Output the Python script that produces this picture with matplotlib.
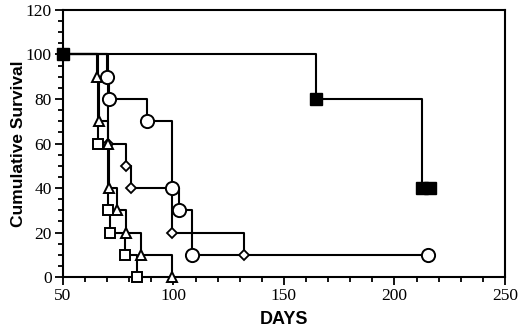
import matplotlib
matplotlib.use('Agg')
import matplotlib.pyplot as plt
from matplotlib.ticker import MultipleLocator

# Kaplan-Meier style survival curves (days, cumulative survival %)
circle_days = [50, 70, 70.8, 88, 99.5, 102.5, 108.5, 215]
circle_surv = [100, 90, 80, 70, 40, 30, 10, 10]

diamond_days = [50, 70.5, 78.5, 81, 99.5, 132]
diamond_surv = [100, 60, 50, 40, 20, 10]

triangle_days = [50, 65.4, 66.4, 70.2, 71, 74.6, 78.5, 85.3, 99.5]
triangle_surv = [100, 90, 70, 60, 40, 30, 20, 10, 0]

square_days = [50, 65.8, 70.4, 71.2, 78, 83.3]
square_surv = [100, 60, 30, 20, 10, 0]

filled_days = [50, 164.5, 212.6, 216]
filled_surv = [100, 80, 40, 40]

fig = plt.figure(figsize=(5.2, 3.28), dpi=100)
ax = fig.add_axes([0.121, 0.155, 0.850, 0.815])

lw = 1.5
# lines first
for d, s in [(circle_days, circle_surv), (diamond_days, diamond_surv),
             (triangle_days, triangle_surv), (square_days, square_surv),
             (filled_days, filled_surv)]:
    ax.step(d, s, where='post', color='black', lw=lw, zorder=2)

# markers at events
ax.plot(circle_days[1:], circle_surv[1:], 'o', ms=9.5, mfc='white', mec='black',
        mew=1.4, ls='none', zorder=3, clip_on=False)
ax.plot(diamond_days[1:], diamond_surv[1:], 'D', ms=5.5, mfc='white', mec='black',
        mew=1.3, ls='none', zorder=3, clip_on=False)
ax.plot(triangle_days[1:], triangle_surv[1:], '^', ms=7.5, mfc='white', mec='black',
        mew=1.4, ls='none', zorder=4, clip_on=False)
ax.plot(square_days[1:], square_surv[1:], 's', ms=7.5, mfc='white', mec='black',
        mew=1.4, ls='none', zorder=4, clip_on=False)
ax.plot(filled_days, filled_surv, 's', ms=8.5, mfc='black', mec='black',
        mew=1, ls='none', zorder=5, clip_on=False)

ax.set_xlim(50, 250)
ax.set_ylim(0, 120)
ax.xaxis.set_major_locator(MultipleLocator(50))
ax.xaxis.set_minor_locator(MultipleLocator(10))
ax.yaxis.set_major_locator(MultipleLocator(20))
ax.yaxis.set_minor_locator(MultipleLocator(5))
ax.tick_params(which='both', direction='out', width=1.3, colors='black')
ax.tick_params(which='major', length=6, pad=2)
ax.tick_params(which='minor', length=3.5)
for lab in ax.get_xticklabels() + ax.get_yticklabels():
    lab.set_fontfamily('Liberation Serif')
    lab.set_fontsize(12.5)
for sp in ax.spines.values():
    sp.set_linewidth(1.5)

ax.set_xlabel('DAYS', fontfamily='Liberation Sans', fontweight='bold', fontsize=13, labelpad=5)
ax.set_ylabel('Cumulative Survival', fontfamily='Liberation Sans', fontweight='bold',
              fontsize=12.5, labelpad=0)

fig.savefig('out.png', dpi=100)
